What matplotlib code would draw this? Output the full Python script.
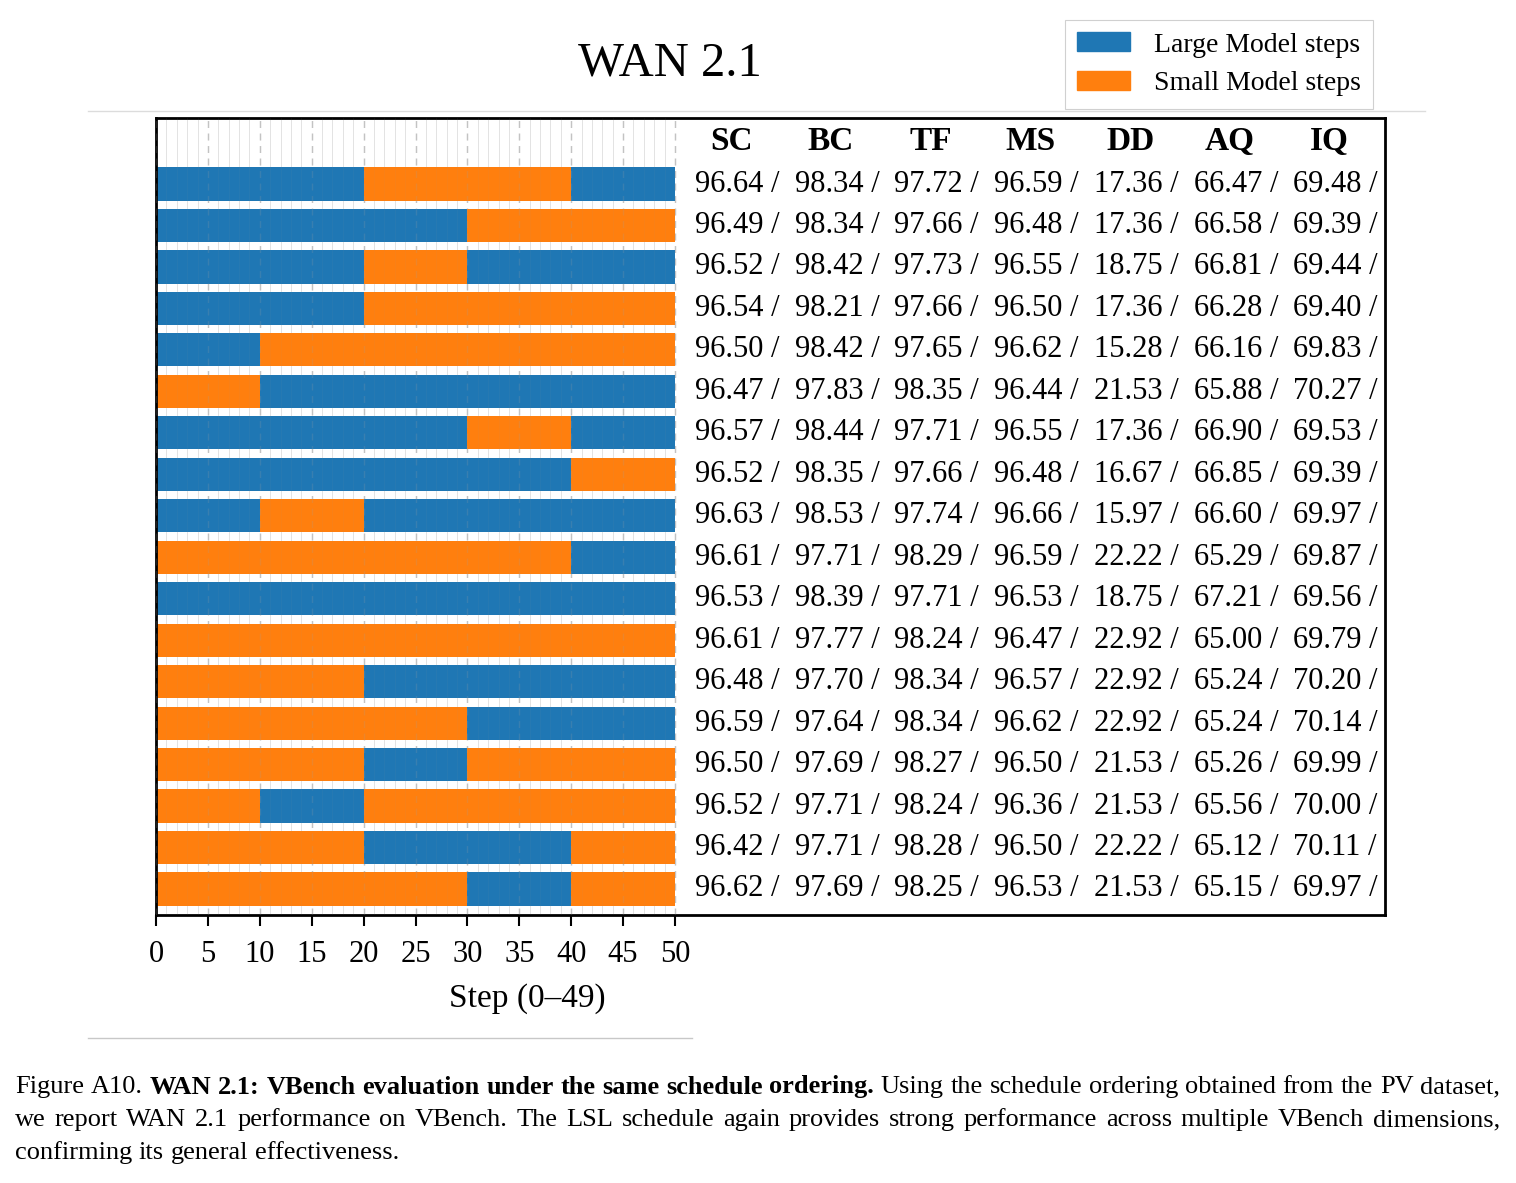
"""
WAN 2.1 schedule ordering vs VBench scores
"""
import matplotlib
matplotlib.use('Agg')
import matplotlib.pyplot as plt
from matplotlib.patches import Patch
from matplotlib.lines import Line2D

plt.rcParams['font.family'] = ['Liberation Serif', 'DejaVu Serif']

# each character is one block of 10 steps: L = large model, S = small model
block_size = 10
schedules = [
    'LLSSL', 'LLLSS', 'LLSLL', 'LLSSS', 'LSSSS', 'SLLLL',
    'LLLSL', 'LLLLS', 'LSLLL', 'SSSSL', 'LLLLL', 'SSSSS',
    'SSLLL', 'SSSLL', 'SSLSS', 'SLSSS', 'SSLLS', 'SSSLS',
]

metric_names = ['SC', 'BC', 'TF', 'MS', 'DD', 'AQ', 'IQ']
SC = [96.64, 96.49, 96.52, 96.54, 96.50, 96.47, 96.57, 96.52, 96.63,
      96.61, 96.53, 96.61, 96.48, 96.59, 96.50, 96.52, 96.42, 96.62]
BC = [98.34, 98.34, 98.42, 98.21, 98.42, 97.83, 98.44, 98.35, 98.53,
      97.71, 98.39, 97.77, 97.70, 97.64, 97.69, 97.71, 97.71, 97.69]
TF = [97.72, 97.66, 97.73, 97.66, 97.65, 98.35, 97.71, 97.66, 97.74,
      98.29, 97.71, 98.24, 98.34, 98.34, 98.27, 98.24, 98.28, 98.25]
MS = [96.59, 96.48, 96.55, 96.50, 96.62, 96.44, 96.55, 96.48, 96.66,
      96.59, 96.53, 96.47, 96.57, 96.62, 96.50, 96.36, 96.50, 96.53]
DD = [17.36, 17.36, 18.75, 17.36, 15.28, 21.53, 17.36, 16.67, 15.97,
      22.22, 18.75, 22.92, 22.92, 22.92, 21.53, 21.53, 22.22, 21.53]
AQ = [66.47, 66.58, 66.81, 66.28, 66.16, 65.88, 66.90, 66.85, 66.60,
      65.29, 67.21, 65.00, 65.24, 65.24, 65.26, 65.56, 65.12, 65.15]
IQ = [69.48, 69.39, 69.44, 69.40, 69.83, 70.27, 69.53, 69.39, 69.97,
      69.87, 69.56, 69.79, 70.20, 70.14, 69.99, 70.00, 70.11, 69.97]
metric_values = [SC, BC, TF, MS, DD, AQ, IQ]

total_steps = 50
xticks = list(range(0, 51, 5))

caption_lines = [
    [('Figure A10.', 'normal'),
     ('WAN 2.1: VBench evaluation under the same schedule ordering.', 'bold'),
     ('Using the schedule ordering obtained from the PV dataset,', 'normal')],
    [('we report WAN 2.1 performance on VBench. The LSL schedule again provides '
      'strong performance across multiple VBench dimensions,', 'normal')],
    [('confirming its general effectiveness.', 'normal')],
]

colors = {'L': '#1f77b4', 'S': '#ff7f0e'}

W, H = 1516, 1183
fig = plt.figure(figsize=(W / 100, H / 100), dpi=100)


def fx(px):
    return px / W


def fy(py):
    return 1 - py / H


# faint screenshot border lines
fig.add_artist(Line2D([fx(88), fx(1425)], [fy(111), fy(111)], color='#dcdcdc', lw=1))
fig.add_artist(Line2D([fx(88), fx(692)], [fy(1038), fy(1038)], color='#c8c8c8', lw=1))

ax = fig.add_axes([fx(156), fy(915), fx(1385) - fx(156), fy(118) - fy(915)])

# bars: merge consecutive blocks of same model
for i, sched in enumerate(schedules):
    start = 0
    for j in range(1, len(sched) + 1):
        if j == len(sched) or sched[j] != sched[start]:
            ax.barh(i, (j - start) * block_size, left=start * block_size,
                    height=0.8, color=colors[sched[start]], zorder=2)
            start = j

# step grid: behind the bars, plus a very faint copy on top
for s in range(0, total_steps + 1):
    if s % 5 == 0:
        ax.axvline(s, color='#cccccc', lw=1.0, ls=(0, (5, 4)), zorder=1)
        ax.axvline(s, color='#a0a0a0', lw=1.0, ls=(0, (5, 4)), alpha=0.2, zorder=3)
    else:
        ax.axvline(s, color='#e8e8e8', lw=0.7, zorder=1)
        ax.axvline(s, color='#a0a0a0', lw=0.6, alpha=0.07, zorder=3)

px_per_step = 10.38
ax.set_xlim(0, (1385 - 156) / px_per_step)
row_px = 41.47
ax.set_ylim(len(schedules) - 1 + 26 / row_px, -66 / row_px)

ax.set_xticks(xticks)
ax.set_yticks([])
ax.tick_params(axis='x', length=8, width=1.5, labelsize=22, pad=10)
for sp in ax.spines.values():
    sp.set_linewidth(2)
ax.set_xlabel('Step (0\u201349)', fontsize=24)
ax.xaxis.set_label_coords((527 - 156) / (1385 - 156), -0.085)

# score table
col_x0 = (695 - 156) / px_per_step
col_dx = 99.7 / px_per_step
for j, name in enumerate(metric_names):
    x = col_x0 + j * col_dx
    ax.text(x + 3.5, -43 / row_px, name, fontsize=24, fontweight='bold',
            ha='center', va='center')
    for i, v in enumerate(metric_values[j]):
        ax.text(x, i, f'{v:.2f} /', fontsize=22, ha='left', va='center')

fig.text(fx(670), fy(63), 'WAN 2.1', fontsize=35, ha='center', va='center')

handles = [Patch(color=colors['L'], label='Large Model steps'),
           Patch(color=colors['S'], label='Small Model steps')]
leg = fig.legend(handles=handles, loc='upper right', bbox_to_anchor=(fx(1373), fy(20)),
                 borderaxespad=0, fontsize=20, handlelength=1.9, handleheight=0.65,
                 handletextpad=0.85, labelspacing=0.5, borderpad=0.45, fancybox=False,
                 framealpha=1, edgecolor='#d0d0d0')
leg.get_frame().set_linewidth(0.8)

# caption, justified like the paper text
fig.canvas.draw()
renderer = fig.canvas.get_renderer()
left_px, right_px = 15, 1500
line_y = [1087, 1120, 1153]
cap_size = 19
probe2 = fig.text(0, 0, 'a a', fontsize=cap_size)
probe1 = fig.text(0, 0, 'aa', fontsize=cap_size)
space = probe2.get_window_extent(renderer).width - probe1.get_window_extent(renderer).width
probe1.remove()
probe2.remove()
for k, segs in enumerate(caption_lines):
    words = []
    for txt, weight in segs:
        for w in txt.split(' '):
            words.append((w, weight))
    artists = []
    widths = []
    for w, weight in words:
        t = fig.text(0, fy(line_y[k]), w, fontsize=cap_size, fontweight=weight,
                     ha='left', va='center')
        artists.append(t)
        widths.append(t.get_window_extent(renderer).width)
    if k < len(caption_lines) - 1:
        gap = (right_px - left_px - sum(widths)) / (len(words) - 1)
    else:
        gap = space
    x = left_px
    for t, wd in zip(artists, widths):
        t.set_x(fx(x))
        x += wd + gap

fig.savefig('out.png', dpi=100)
